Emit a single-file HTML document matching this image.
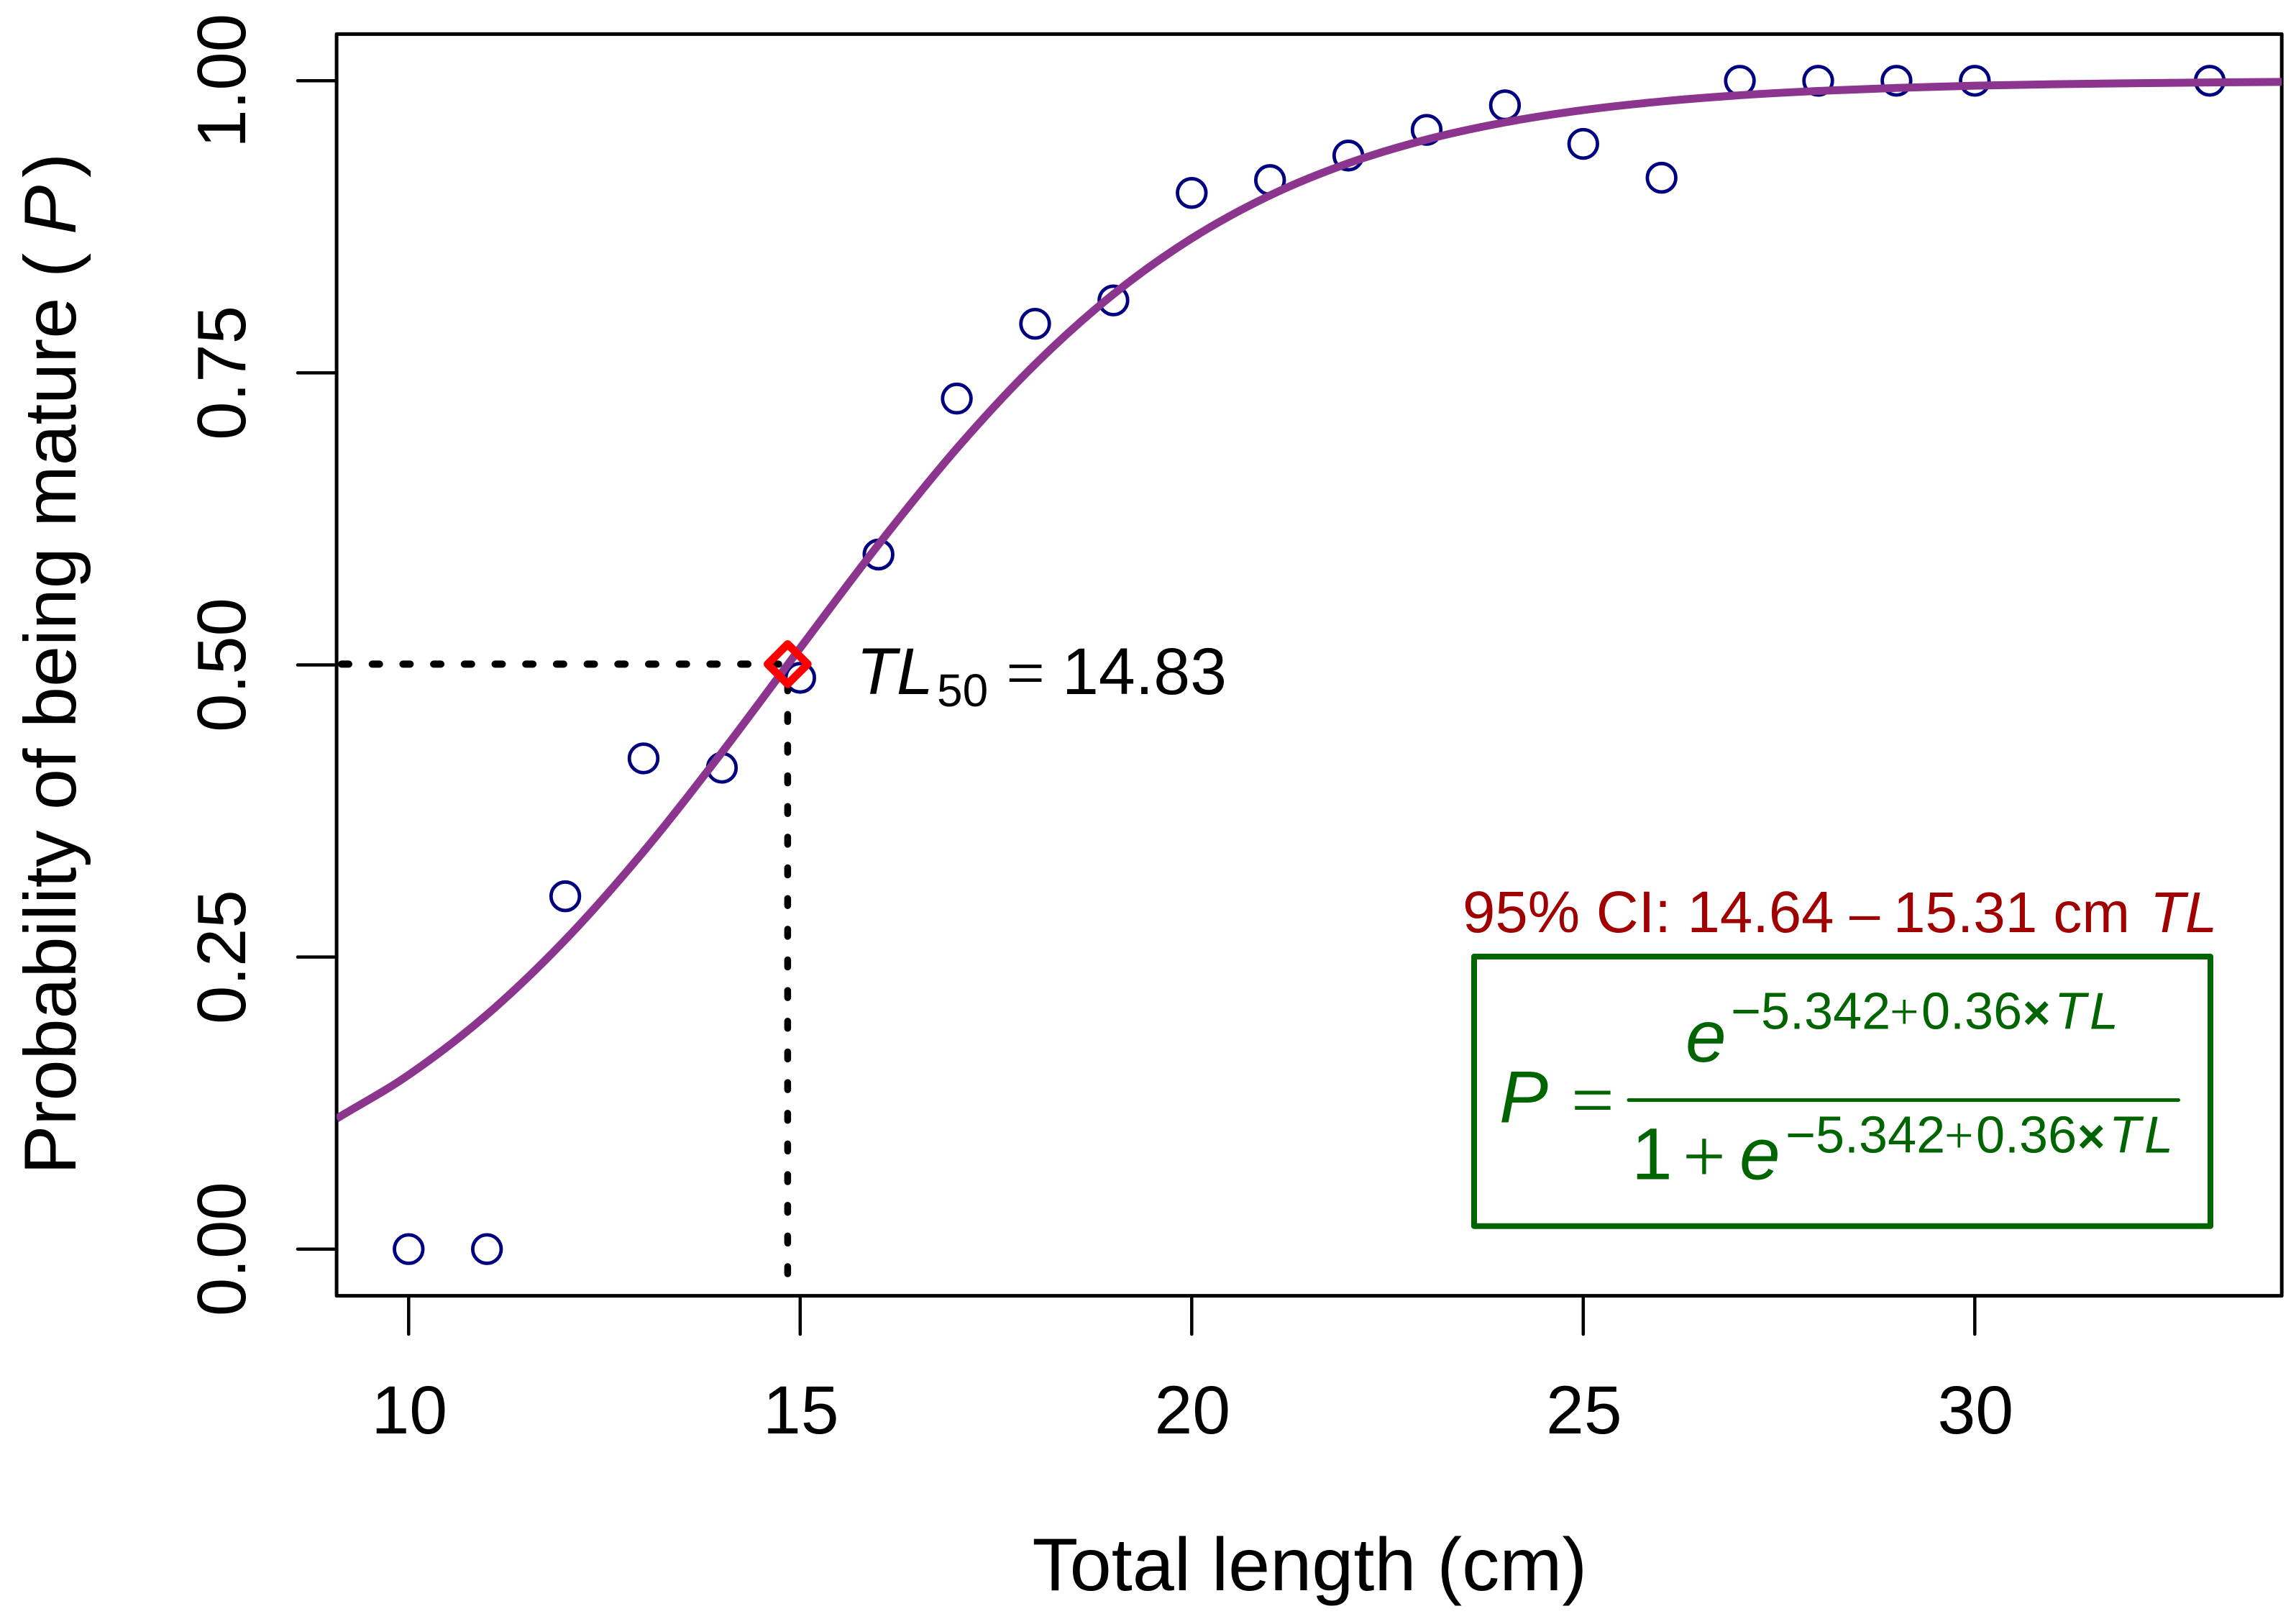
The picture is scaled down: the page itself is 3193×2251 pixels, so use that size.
<!DOCTYPE html>
<html lang="en">
<head>
<meta charset="utf-8">
<title>Probability of being mature vs total length</title>
<style>
html,body{margin:0;padding:0;background:#fff;}
svg{display:block;}
text{font-family:"Liberation Sans",Arial,sans-serif;fill:#000;}
.it{font-style:italic;}
.sym{font-family:"Liberation Serif","Times New Roman",serif;}
.g text,text.g{fill:#006400;}
</style>
</head>
<body>
<svg id="chart" xmlns="http://www.w3.org/2000/svg" width="3193" height="2251" viewBox="0 0 3193 2251">
  <rect x="0" y="0" width="3193" height="2251" fill="#fff"/>
  <g id="axes-layer"></g>
  <g id="marks-layer"></g>

  <text x="1821.3" y="2211" text-anchor="middle" font-size="104.4">Total length (cm)</text>

  <g font-size="102.5">
    <text transform="translate(105,1633) rotate(-90)">Probability of being mature</text>
    <text transform="translate(105,386) rotate(-90)">(</text>
    <text class="it" transform="translate(105,326) rotate(-90)">P</text>
    <text transform="translate(105,247) rotate(-90)">)</text>
  </g>

  <text font-size="91.5" y="965">
    <tspan class="it" x="1191">TL</tspan><tspan x="1303" y="982" font-size="64">50</tspan><tspan class="sym" x="1399" y="968" font-size="96">=</tspan><tspan x="1477" y="965">14.83</tspan>
  </text>

  <text font-size="80" y="1296" style="fill:#a00000">
    <tspan x="2034" font-size="81.5" style="fill:#a00000">95% CI: 14.64</tspan><tspan x="2572" font-size="76" style="fill:#a00000">–</tspan><tspan x="2633" style="fill:#a00000">15.31 cm</tspan><tspan x="2990" class="it" style="fill:#a00000">TL</tspan>
  </text>

  <g class="g">
    <rect x="2050" y="1330" width="1024" height="374.7" fill="#fff" stroke="#006400" stroke-width="8" stroke-linejoin="round"/>
    <text class="it" x="2085" y="1560.7" font-size="102">P</text>
    <text class="sym" x="2185" y="1565" font-size="106">=</text>
    <line x1="2265" y1="1529.5" x2="3029.5" y2="1529.5" stroke="#006400" stroke-width="5" stroke-linecap="round"/>
    <text class="it" x="2344" y="1476" font-size="102">e</text>
    <text y="1430.7" font-size="72">
      <tspan x="2407">−</tspan><tspan x="2449">5.342</tspan><tspan class="sym" x="2628">+</tspan><tspan x="2672">0.36</tspan><tspan x="2813" font-size="66" font-weight="bold">×</tspan><tspan class="it" x="2857">T</tspan><tspan class="it" x="2906">L</tspan>
    </text>
    <text x="2269" y="1639.3" font-size="102">1</text>
    <text class="sym" x="2340" y="1643" font-size="106">+</text>
    <text class="it" x="2419" y="1639.3" font-size="102">e</text>
    <text y="1602.3" font-size="72">
      <tspan x="2483">−</tspan><tspan x="2525">5.342</tspan><tspan class="sym" x="2704">+</tspan><tspan x="2748">0.36</tspan><tspan x="2889" font-size="66" font-weight="bold">×</tspan><tspan class="it" x="2933">T</tspan><tspan class="it" x="2982">L</tspan>
    </text>
  </g>
</svg>

<script>
// ---- data ----
const pointLengths = [10, 11, 12, 13, 14, 15, 16, 17, 18, 19, 20, 21, 22, 23, 24, 25, 26, 27, 28, 29, 30, 33];
const pointProportions = [0, 0, 0.302, 0.42, 0.412, 0.489, 0.5945, 0.728, 0.792, 0.812, 0.904, 0.915, 0.936, 0.958, 0.979, 0.946, 0.917, 1, 1, 1, 1, 1];
const curveLengths = [9.08, 10, 11, 12, 13, 14, 15, 16, 17, 18, 19, 20, 21, 22, 23, 24, 25, 26, 27, 28, 29, 30, 31, 32, 33, 33.92];
const curveProbabilities = [0.1117, 0.1491, 0.2007, 0.2647, 0.3403, 0.4251, 0.5145, 0.603, 0.6853, 0.7573, 0.8173, 0.8651, 0.9019, 0.9294, 0.9497, 0.9644, 0.9749, 0.9823, 0.9876, 0.9913, 0.9939, 0.9958, 0.997, 0.9979, 0.9986, 0.999];
const xTicks = [10, 15, 20, 25, 30];
const xTickLabels = ["10", "15", "20", "25", "30"];
const yTicks = [0, 0.25, 0.5, 0.75, 1];
const yTickLabels = ["0.00", "0.25", "0.50", "0.75", "1.00"];
const tl50Length = 14.84;
const tl50Probability = 0.5007;
const xDomain = [9.08, 33.92];
const yDomain = [-0.04, 1.04];

// ---- axis functions ----
function sx(v) { return 568.3 + (v - 10) * 108.9; }
function sy(v) { return 1736.7 - v * 1624.4; }

const NS = "http://www.w3.org/2000/svg";
function mk(tag, parent, attrs) {
  const el = document.createElementNS(NS, tag);
  for (const k in attrs) el.setAttribute(k, attrs[k]);
  parent.appendChild(el);
  return el;
}
const axes = document.getElementById("axes-layer");
const marks = document.getElementById("marks-layer");
const svg = document.getElementById("chart");

// clip region = plot area
const defs = mk("defs", svg, {});
const clip = mk("clipPath", defs, { id: "plot-clip" });
mk("rect", clip, { x: sx(xDomain[0]), y: sy(yDomain[1]), width: sx(xDomain[1]) - sx(xDomain[0]), height: sy(yDomain[0]) - sy(yDomain[1]) });

// plot frame
const frame = mk("rect", axes, { x: sx(xDomain[0]), y: sy(yDomain[1]), width: sx(xDomain[1]) - sx(xDomain[0]), height: sy(yDomain[0]) - sy(yDomain[1]), fill: "none", stroke: "#000", "stroke-width": 5, "stroke-linejoin": "round" });



// x ticks
xTicks.forEach(function (t, i) {
  const tick = mk("line", axes, { x1: sx(t), x2: sx(t), y1: sy(yDomain[0]), y2: 1855, stroke: "#000", "stroke-width": 4.5, "stroke-linecap": "round" });
  
  
  const lab = mk("text", axes, { x: sx(t) + 1, y: 1993, "text-anchor": "middle", "font-size": 95 });
  lab.textContent = xTickLabels[i];
  
  
});

// y ticks
yTicks.forEach(function (t, i) {
  const tick = mk("line", axes, { x1: sx(xDomain[0]), x2: 414, y1: sy(t), y2: sy(t), stroke: "#000", "stroke-width": 4.5, "stroke-linecap": "round" });
  
  
  const lab = mk("text", axes, { transform: "translate(341," + sy(t) + ") rotate(-90)", "text-anchor": "middle", "font-size": 96 });
  lab.textContent = yTickLabels[i];
  
  
});

// observed proportions
pointLengths.forEach(function (x, i) {
  const c = mk("circle", marks, { cx: sx(x), cy: sy(pointProportions[i]), r: 19.8, fill: "none", stroke: "#000080", "stroke-width": 4.8 });
  
  
});

// fitted curve: cubic Hermite through the read values
(function () {
  const n = curveLengths.length;
  const slope = function (i) {
    const a = Math.max(0, i - 1), b = Math.min(n - 1, i + 1);
    return (curveProbabilities[b] - curveProbabilities[a]) / (curveLengths[b] - curveLengths[a]);
  };
  let d = "M" + sx(curveLengths[0]) + " " + sy(curveProbabilities[0]);
  for (let i = 0; i < n - 1; i++) {
    const h = (curveLengths[i + 1] - curveLengths[i]) / 3;
    const c1x = curveLengths[i] + h, c1y = curveProbabilities[i] + slope(i) * h;
    const c2x = curveLengths[i + 1] - h, c2y = curveProbabilities[i + 1] - slope(i + 1) * h;
    d += " C" + sx(c1x) + " " + sy(c1y) + " " + sx(c2x) + " " + sy(c2y) + " " + sx(curveLengths[i + 1]) + " " + sy(curveProbabilities[i + 1]);
  }
  const curve = mk("path", marks, { d: d, fill: "none", stroke: "#8b358f", "stroke-width": 11, "clip-path": "url(#plot-clip)" });
  
  
})();

// TL50 guides
const guideH = mk("line", marks, { x1: 475, x2: sx(tl50Length), y1: sy(tl50Probability), y2: sy(tl50Probability), stroke: "#000", "stroke-width": 10, "stroke-linecap": "round", "stroke-dasharray": "10 32.7" });


const guideV = mk("line", marks, { x1: sx(tl50Length), x2: sx(tl50Length), y1: 1771, y2: sy(tl50Probability), stroke: "#000", "stroke-width": 9.5, "stroke-linecap": "round", "stroke-dasharray": "10 32.65" });



// TL50 diamond
(function () {
  const cx = sx(tl50Length), cy = sy(tl50Probability), R = 27.8;
  const pts = [[cx, cy - R], [cx + R, cy], [cx, cy + R], [cx - R, cy]].map(function (p) { return p.join(","); }).join(" ");
  const dia = mk("polygon", marks, { points: pts, fill: "none", stroke: "#ff0000", "stroke-width": 11, "stroke-linejoin": "round" });
  
  
})();
</script>
</body>
</html>
